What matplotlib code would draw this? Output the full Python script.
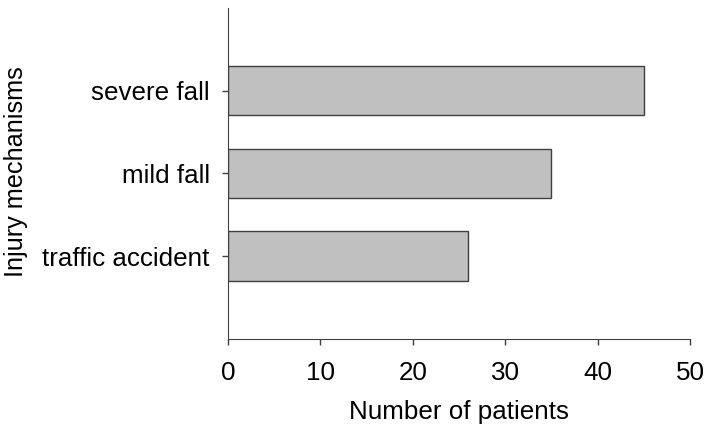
import matplotlib.pyplot as plt

# данные
categories = ["traffic accident", "mild fall", "severe fall"]
patients = [26, 35, 45]
x_ticks = [0, 10, 20, 30, 40, 50]

plt.rcParams['font.family'] = ['Liberation Sans', 'DejaVu Sans']

fig = plt.figure(figsize=(7.1, 4.33), dpi=100)
ax = fig.add_axes([0.321, 0.217, 0.651, 0.765])

pos = list(range(1, len(categories) + 1))
ax.barh(pos, patients, height=0.6, color="#c0c0c0", edgecolor="#404040", linewidth=1)

ax.set_xlim(0, 50)
ax.set_ylim(0, 4)
ax.set_xticks(x_ticks)
ax.set_yticks(pos)
ax.set_yticklabels(categories)
ax.tick_params(axis='both', labelsize=18.7, direction='out', length=4, width=1, color="#404040")
ax.tick_params(axis='x', pad=12)
ax.tick_params(axis='y', pad=9)

for side in ['top', 'right']:
    ax.spines[side].set_visible(False)
for side in ['left', 'bottom']:
    ax.spines[side].set_color("#404040")

ax.set_xlabel("Number of patients", fontsize=18.7)
ax.set_ylabel("Injury mechanisms", fontsize=18.2)
ax.xaxis.set_label_coords(0.5, -0.185)
ax.yaxis.set_label_coords(-0.432, 0.505)

plt.savefig("out.png", dpi=100)
